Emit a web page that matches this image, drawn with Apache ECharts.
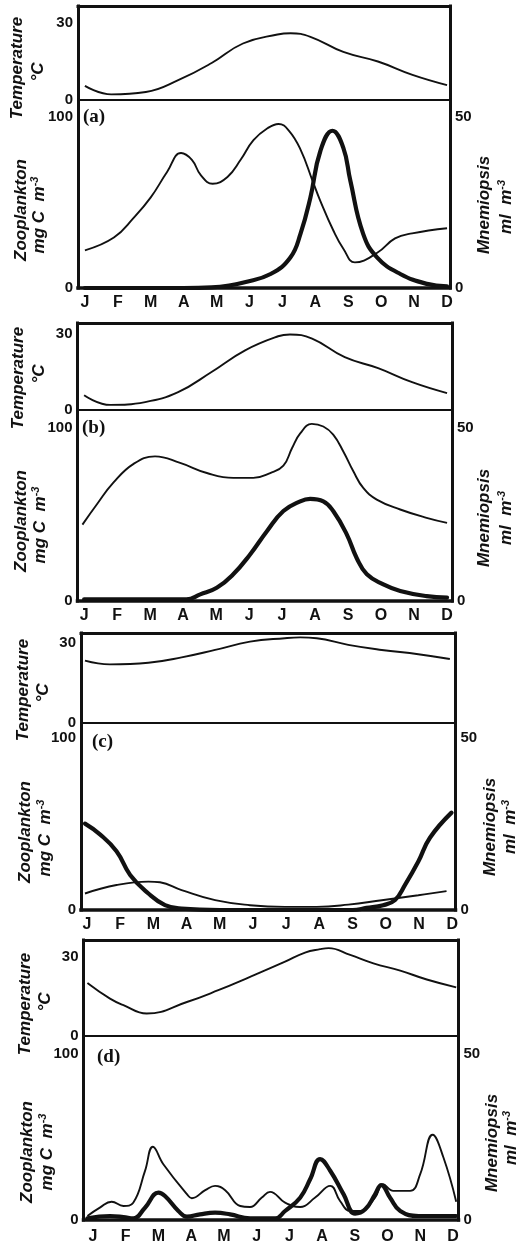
<!DOCTYPE html>
<html>
<head>
<meta charset="utf-8">
<script src="https://cdn.jsdelivr.net/npm/echarts@6/dist/echarts.min.js"></script>
<style>
  html, body { margin: 0; padding: 0; background: #ffffff; }
  #chart { width: 518px; height: 1247px; }
</style>
</head>
<body>
<div id="chart"></div>
<script>
// Month initials along each bottom axis (month index 0..11)
const MONTHS = ['J', 'F', 'M', 'A', 'M', 'J', 'J', 'A', 'S', 'O', 'N', 'D'];
const MONTH_TICKS = [0, 1, 2, 3, 4, 5, 6, 7, 8, 9, 10, 11];
const TEMP_TICKS = [0, 30];
const ZOO_TICKS = [0, 100];
const MNEM_TICKS = [0, 50];

// Panel (a): [month index, value]
const tempA = [[0, 5.5], [0.8, 2.2], [1.85, 3.1], [2.85, 7.8], [3.85, 14.4], [4.8, 22], [5.85, 25.5], [6.25, 26], [6.85, 24.6], [7.85, 18.7], [8.9, 15], [9.95, 9.8], [11, 5.8]];
const zooA = [[0, 22], [0.88, 29.5], [1.48, 41], [2, 53], [2.5, 68], [2.92, 79], [3.25, 75], [3.52, 66], [3.88, 61], [4.33, 65], [4.73, 75], [5.12, 86.5], [5.55, 93.5], [5.88, 96], [6.2, 92], [6.55, 81], [6.91, 63], [7.15, 51], [7.55, 33.5], [7.85, 23], [8.2, 15], [8.88, 20.6], [9.42, 29], [9.94, 32], [11, 35]];
const mnemA = [[0, 0], [3, 0], [3.85, 0.2], [4.42, 0.8], [4.82, 1.6], [5.64, 4.1], [6.24, 8.9], [6.55, 15.9], [6.85, 26.5], [7.15, 40], [7.52, 46], [7.85, 41], [8.06, 31.5], [8.45, 15.9], [8.88, 8.9], [9.58, 4.1], [10.39, 1.2], [11, 0.5]];

// Panel (b)
const tempB = [[0, 5.8], [0.79, 2], [1.85, 3.1], [2.85, 7], [3.85, 14.8], [4.88, 23.4], [5.88, 28.9], [6.24, 29.6], [6.91, 28], [7.9, 20.7], [8.91, 16.4], [9.94, 10.9], [11, 6.6]];
const zooB = [[-0.05, 44], [0.4, 56], [0.88, 68], [1.5, 79], [2.15, 83.3], [2.91, 79.5], [3.72, 73.7], [4.52, 70.9], [5.13, 70.9], [5.64, 73.7], [6.04, 78], [6.3, 88], [6.55, 96.5], [6.9, 102], [7.25, 100.5], [7.55, 95.8], [7.86, 86], [8.16, 74.7], [8.46, 65.1], [8.87, 58.4], [9.58, 52.7], [10.38, 47.9], [11, 45]];
const mnemB = [[0, 0.5], [3.1, 0.5], [3.52, 1.9], [4.02, 3.8], [4.52, 7.7], [5.03, 13.4], [5.54, 20.1], [6.04, 25.9], [6.55, 28.7], [6.85, 29.4], [7.25, 28.7], [7.55, 25.9], [7.96, 19.2], [8.26, 12.4], [8.57, 7.7], [9.07, 4.8], [9.58, 2.9], [10.38, 1.4], [11, 1]];

// Panel (c)
const tempC = [[-0.06, 23.4], [0.69, 22], [1.85, 22.6], [2.85, 24.6], [3.86, 27.4], [4.91, 30.5], [5.96, 31.8], [6.42, 32.1], [6.92, 31.8], [7.87, 29.3], [8.88, 27.4], [9.98, 25.8], [10.93, 24]];
const zooC = [[-0.06, 9.6], [0.89, 14.5], [1.85, 16.5], [2.2, 16.1], [2.85, 11.6], [3.86, 5.7], [4.91, 2.8], [5.96, 1.8], [6.92, 1.8], [7.87, 3.1], [8.88, 5.7], [9.98, 8.6], [10.83, 11]];
const mnemC = [[-0.06, 25.1], [0.39, 22], [0.89, 17.1], [1.3, 10.2], [1.85, 4.8], [2.35, 1.4], [2.85, 0.4], [4, 0], [8, 0], [8.42, 0.6], [8.92, 1.4], [9.28, 2.9], [9.58, 7.3], [9.98, 14.1], [10.33, 21], [10.98, 28.3]];

// Panel (d)
const tempD = [[-0.17, 20.1], [0.52, 14.1], [0.93, 11.6], [1.64, 8.4], [2.87, 12.8], [3.83, 17.3], [4.8, 22.4], [5.87, 28.2], [6.48, 31.7], [6.94, 33], [7.2, 33.4], [7.86, 30.8], [8.57, 27.6], [9.39, 24.8], [10.2, 21.4], [11.1, 18.4]];
const zooD = [[-0.17, 2.4], [0.21, 7.4], [0.57, 11], [0.93, 8.4], [1.23, 10.4], [1.59, 29.5], [1.83, 44], [2.15, 33.5], [2.87, 15.5], [3.02, 13.1], [3.43, 17.9], [3.73, 20.5], [4.04, 17.9], [4.5, 8.4], [4.8, 7.8], [5.16, 13.5], [5.41, 16.9], [5.87, 10.4], [6.33, 7.8], [6.79, 13.5], [7.25, 20.5], [7.55, 11.4], [7.86, 5.4], [8.17, 5.4], [8.62, 13.5], [8.86, 21.5], [9.18, 17.5], [9.69, 17.5], [10, 27.5], [10.38, 51.2], [10.71, 37.5], [11.1, 11]];
const mnemD = [[-0.17, 0.5], [0.52, 1.2], [0.93, 0.9], [1.23, 0.5], [1.59, 3.7], [2.0, 8.2], [2.2, 7.2], [2.61, 2.7], [2.87, 1.0], [3.27, 1.7], [3.73, 2.2], [4.19, 1.7], [4.8, 0.5], [5.57, 0.5], [5.87, 2.7], [6.33, 6.7], [6.64, 12.3], [6.94, 18.3], [7.25, 14.8], [7.66, 7.7], [8.01, 1.9], [8.32, 3.2], [8.62, 7.7], [8.81, 10.5], [9.08, 6.7], [9.39, 2.7], [9.95, 1.2], [11.1, 1.2]];

// Panel geometry (pixels) and axis extents
const PANELS = [
  { tag: '(a)', temp: tempA, zoo: zooA, mnem: mnemA, tMax: 36.6, zMax: 110, xMin: -0.21, xMax: 11.09,
    box: { left: 78, right: 450, top: 6, mid: 100, bottom: 288 }, tagAt: [83, 117],
    titles: [[17, 68], [38, 72], [21, 210], [39, 215], [484, 205], [506, 207]] },
  { tag: '(b)', temp: tempB, zoo: zooB, mnem: mnemB, tMax: 34.1, zMax: 110, xMin: -0.2, xMax: 11.15,
    box: { left: 77.5, right: 452, top: 323, mid: 410, bottom: 601 }, tagAt: [82, 428],
    titles: [[18, 378], [39, 374], [21, 521], [40, 525], [484, 518], [506, 518]] },
  { tag: '(c)', temp: tempC, zoo: zooC, mnem: mnemC, tMax: 33.75, zMax: 108.7, xMin: -0.18, xMax: 11.1,
    box: { left: 81, right: 455.5, top: 633, mid: 723, bottom: 910 }, tagAt: [92, 742],
    titles: [[23.5, 690], [43, 693], [25.5, 832], [45, 838], [490, 827], [510, 827]] },
  { tag: '(d)', temp: tempD, zoo: zooD, mnem: mnemD, tMax: 36.5, zMax: 110.8, xMin: -0.29, xMax: 11.17,
    box: { left: 83.5, right: 458.5, top: 940, mid: 1035.5, bottom: 1220 }, tagAt: [97, 1057],
    titles: [[25.5, 1004], [45, 1002], [27.5, 1152], [47, 1152], [492, 1143], [511, 1138]] }
];

const INK = '#111111';
const SANS = '"Liberation Sans", Arial, sans-serif';
const FRAME_W = 3;

function frameLine(width) {
  return { show: true, onZero: false, lineStyle: { color: INK, width: width, cap: 'square' } };
}

const grid = [], xAxis = [], yAxis = [], series = [], elements = [];

const tickLabel = { color: INK, fontFamily: SANS, fontWeight: 'bold', fontSize: 15, margin: 5 };
const titleFont = { fontFamily: SANS, fontWeight: 'bold', fontStyle: 'italic', fontSize: 17, fill: INK };

function vText(x, y, text, rich) {
  const style = Object.assign({ text: text, x: 0, y: 0, align: 'center', verticalAlign: 'middle' }, titleFont);
  if (rich) style.rich = rich;
  elements.push({ type: 'text', x: x, y: y, rotation: Math.PI / 2, style: style, z: 10 });
}

const supRich = {
  n: { fontFamily: SANS, fontWeight: 'bold', fontStyle: 'italic', fontSize: 17, color: INK, lineHeight: 20 },
  s: { fontFamily: SANS, fontWeight: 'bold', fontStyle: 'italic', fontSize: 11, color: INK, verticalAlign: 'top' }
};

PANELS.forEach((p, i) => {
  const b = p.box;
  const gT = 2 * i, gZ = 2 * i + 1;
  grid.push({ left: b.left, width: b.right - b.left, top: b.top, height: b.mid - b.top });
  grid.push({ left: b.left, width: b.right - b.left, top: b.mid, height: b.bottom - b.mid });

  const xBase = { type: 'value', min: p.xMin, max: p.xMax, splitLine: { show: false }, axisTick: { show: false } };
  // divider between temperature and plankton panels
  xAxis.push(Object.assign({}, xBase, { gridIndex: gT, position: 'bottom', axisLine: frameLine(1.8), axisLabel: { show: false } }));
  // top edge of the frame
  xAxis.push(Object.assign({}, xBase, { gridIndex: gT, position: 'top', axisLine: frameLine(FRAME_W), axisLabel: { show: false } }));
  // month axis
  xAxis.push(Object.assign({}, xBase, {
    gridIndex: gZ, position: 'bottom', axisLine: frameLine(3.5),
    axisLabel: {
      customValues: MONTH_TICKS, color: INK, fontFamily: SANS, fontWeight: 'bold', fontSize: 16,
      margin: i === 3 ? 9 : 7, formatter: v => MONTHS[Math.round(v)]
    }
  }));

  const yBase = { type: 'value', min: 0, splitLine: { show: false }, axisTick: { show: false } };
  yAxis.push(Object.assign({}, yBase, {
    gridIndex: gT, position: 'left', max: p.tMax, axisLine: frameLine(FRAME_W),
    axisLabel: Object.assign({ customValues: TEMP_TICKS }, tickLabel)
  }));
  yAxis.push(Object.assign({}, yBase, {
    gridIndex: gT, position: 'right', max: p.tMax, axisLine: frameLine(FRAME_W), axisLabel: { show: false }
  }));
  yAxis.push(Object.assign({}, yBase, {
    gridIndex: gZ, position: 'left', max: p.zMax, axisLine: frameLine(FRAME_W),
    axisLabel: Object.assign({ customValues: ZOO_TICKS }, tickLabel)
  }));
  yAxis.push(Object.assign({}, yBase, {
    gridIndex: gZ, position: 'right', max: p.zMax / 2, axisLine: frameLine(FRAME_W),
    axisLabel: Object.assign({ customValues: MNEM_TICKS }, tickLabel)
  }));

  const lineBase = { type: 'line', smooth: 0.45, symbol: 'none', clip: false, silent: true };
  series.push(Object.assign({}, lineBase, {
    name: 'Temperature ' + p.tag, xAxisIndex: 3 * i, yAxisIndex: 4 * i, data: p.temp,
    lineStyle: { color: INK, width: 1.9 }
  }));
  series.push(Object.assign({}, lineBase, {
    name: 'Zooplankton ' + p.tag, xAxisIndex: 3 * i + 2, yAxisIndex: 4 * i + 2, data: p.zoo,
    lineStyle: { color: INK, width: 1.9 }
  }));
  series.push(Object.assign({}, lineBase, {
    name: 'Mnemiopsis ' + p.tag, xAxisIndex: 3 * i + 2, yAxisIndex: 4 * i + 3, data: p.mnem,
    lineStyle: { color: INK, width: 4.2, join: 'round', cap: 'round' }
  }));

  // panel tag
  elements.push({
    type: 'text', x: p.tagAt[0], y: p.tagAt[1], z: 10,
    style: { text: p.tag, align: 'left', verticalAlign: 'middle', fontFamily: '"Liberation Serif", "Times New Roman", serif', fontWeight: 'bold', fontSize: 19, fill: INK }
  });

  // axis titles
  const t = p.titles;
  vText(t[0][0], t[0][1], 'Temperature');
  vText(t[1][0], t[1][1], '°C');
  vText(t[2][0], t[2][1], 'Zooplankton');
  vText(t[3][0], t[3][1], '{n|mg C  m}{s|-3}', supRich);
  vText(t[4][0], t[4][1], 'Mnemiopsis');
  vText(t[5][0], t[5][1], '{n|ml  m}{s|-3}', supRich);
});

const chart = echarts.init(document.getElementById('chart'), null, { renderer: 'canvas' });
chart.setOption({
  animation: false,
  backgroundColor: '#ffffff',
  grid: grid,
  xAxis: xAxis,
  yAxis: yAxis,
  series: series,
  graphic: { elements: elements }
});
</script>
</body>
</html>
